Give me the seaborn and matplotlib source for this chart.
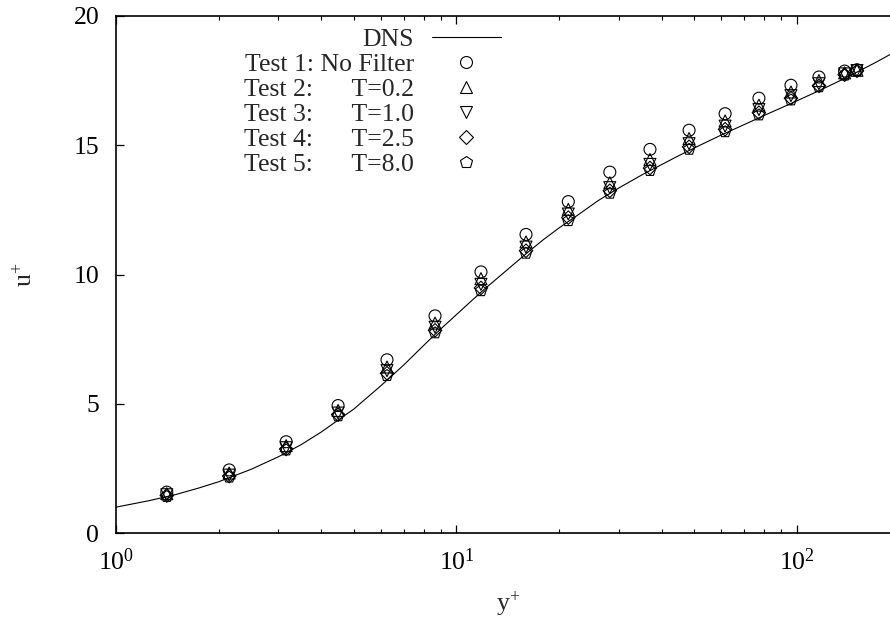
import numpy as np
import pandas as pd
import matplotlib
matplotlib.use("Agg")
import matplotlib.pyplot as plt
import seaborn as sns
from matplotlib.lines import Line2D
from matplotlib.markers import MarkerStyle
from matplotlib.transforms import Affine2D
from matplotlib.ticker import NullFormatter, FixedLocator

# ---------------- data ----------------
dns_yplus = [1, 1.25, 1.5, 1.75, 2, 2.5, 3, 3.5, 4, 5, 6, 7, 8, 9, 10, 11, 12, 14, 16,
             18, 20, 23, 26, 30, 35, 40, 45, 50, 60, 70, 80, 90, 100, 110, 120, 130,
             140, 150, 160, 170, 180, 190, 200]
dns_uplus = [1.0, 1.25, 1.49, 1.74, 1.98, 2.47, 2.95, 3.42, 3.9, 4.8, 5.7, 6.5, 7.25,
             7.9, 8.45, 8.95, 9.4, 10.15, 10.8, 11.35, 11.8, 12.35, 12.85, 13.35, 13.85,
             14.25, 14.6, 14.9, 15.4, 15.8, 16.15, 16.45, 16.72, 16.97, 17.2, 17.42,
             17.63, 17.83, 18.02, 18.2, 18.38, 18.55, 18.7]

test_yplus = [1.41, 2.15, 3.16, 4.49, 6.25, 8.65, 11.8, 16.0, 21.3, 28.2, 37.0, 48.2,
              61.5, 77.3, 96.0, 116, 138, 150]
test1_u = [1.58, 2.44, 3.53, 4.93, 6.70, 8.40, 10.10, 11.55, 12.82, 13.96, 14.84, 15.58,
           16.22, 16.82, 17.32, 17.64, 17.87, 17.92]
test2_u = [1.52, 2.32, 3.38, 4.74, 6.42, 8.12, 9.84, 11.26, 12.52, 13.55, 14.45, 15.26,
           15.94, 16.55, 17.06, 17.50, 17.80, 17.90]
test3_u = [1.48, 2.24, 3.30, 4.64, 6.28, 7.96, 9.62, 11.06, 12.34, 13.36, 14.26, 15.06,
           15.74, 16.38, 16.92, 17.38, 17.76, 17.89]
test4_u = [1.45, 2.20, 3.25, 4.58, 6.18, 7.84, 9.48, 10.92, 12.20, 13.24, 14.12, 14.94,
           15.62, 16.26, 16.82, 17.30, 17.73, 17.88]
test5_u = [1.41, 2.16, 3.21, 4.53, 6.09, 7.74, 9.37, 10.82, 12.08, 13.14, 14.02, 14.84,
           15.52, 16.17, 16.75, 17.26, 17.71, 17.87]

test_labels = ["Test 1: No Filter",
               "Test 2:      T=0.2",
               "Test 3:      T=1.0",
               "Test 4:      T=2.5",
               "Test 5:      T=8.0"]
y_ticks = [0, 5, 10, 15, 20]

# ---------------- style ----------------
sns.set_style("ticks")
plt.rcParams["font.family"] = ["Liberation Serif", "DejaVu Serif"]
plt.rcParams["mathtext.fontset"] = "custom"
plt.rcParams["mathtext.rm"] = "Liberation Serif"
plt.rcParams["mathtext.it"] = "Liberation Serif:italic"
plt.rcParams["mathtext.bf"] = "Liberation Serif:bold"

FS = 18.5
marker_styles = [
    MarkerStyle("o"),
    MarkerStyle("^"),
    MarkerStyle("v"),
    MarkerStyle("D", transform=Affine2D().scale(0.8)),
    MarkerStyle("p"),
]

fig = plt.figure(figsize=(8.9, 6.21), dpi=100)
ax = fig.add_axes([116 / 890, 88 / 621, 783.5 / 890, 517 / 621])

sns.lineplot(x=dns_yplus, y=dns_uplus, color="black", lw=0.8, ax=ax)

df = pd.DataFrame({
    "yplus": test_yplus * 5,
    "uplus": test1_u + test2_u + test3_u + test4_u + test5_u,
    "test": [lab for lab in test_labels for _ in test_yplus],
})
sns.scatterplot(data=df, x="yplus", y="uplus", style="test",
                markers=dict(zip(test_labels, marker_styles)),
                s=74, facecolors="none", edgecolors="black", linewidth=0.8,
                ax=ax, legend=False, zorder=3)
for coll in ax.collections:
    coll.set_facecolor("none")
    coll.set_edgecolor("black")

ax.set_xscale("log")
ax.set_xlim(1, 200)
ax.set_ylim(0, 20)
ax.yaxis.set_major_locator(FixedLocator(y_ticks))
ax.xaxis.set_minor_formatter(NullFormatter())

for sp in ax.spines.values():
    sp.set_linewidth(1.2)
    sp.set_color("black")

ax.tick_params(which="both", direction="in", top=True, right=True, colors="black",
               labelsize=FS)
ax.tick_params(which="major", length=5.8, width=0.9)
ax.tick_params(which="minor", length=2.9, width=0.8)
ax.tick_params(axis="y", pad=12)
ax.tick_params(axis="x", pad=11)

ax.set_xlabel(r"y$^{+}$", fontsize=FS)
ax.set_ylabel(r"u$^{+}$", fontsize=FS)
ax.xaxis.set_label_coords(0.5, -0.11)
ax.xaxis.label.set_va("top")
ax.yaxis.set_label_coords(-0.1, 0.5)

handles = [Line2D([], [], color="black", lw=0.8)] + [
    Line2D([], [], ls="none", marker=m, ms=8.6, mfc="none", mec="black", mew=0.8)
    for m in marker_styles
]
ax.legend(handles, ["DNS"] + test_labels, loc="upper right",
          bbox_to_anchor=(501 / 890, 1 - 28 / 621), bbox_transform=fig.transFigure,
          frameon=False, markerfirst=False, handlelength=2.7, handletextpad=0.68,
          labelspacing=0.08, borderpad=0, borderaxespad=0, fontsize=FS)

fig.savefig("out.png", dpi=100)
